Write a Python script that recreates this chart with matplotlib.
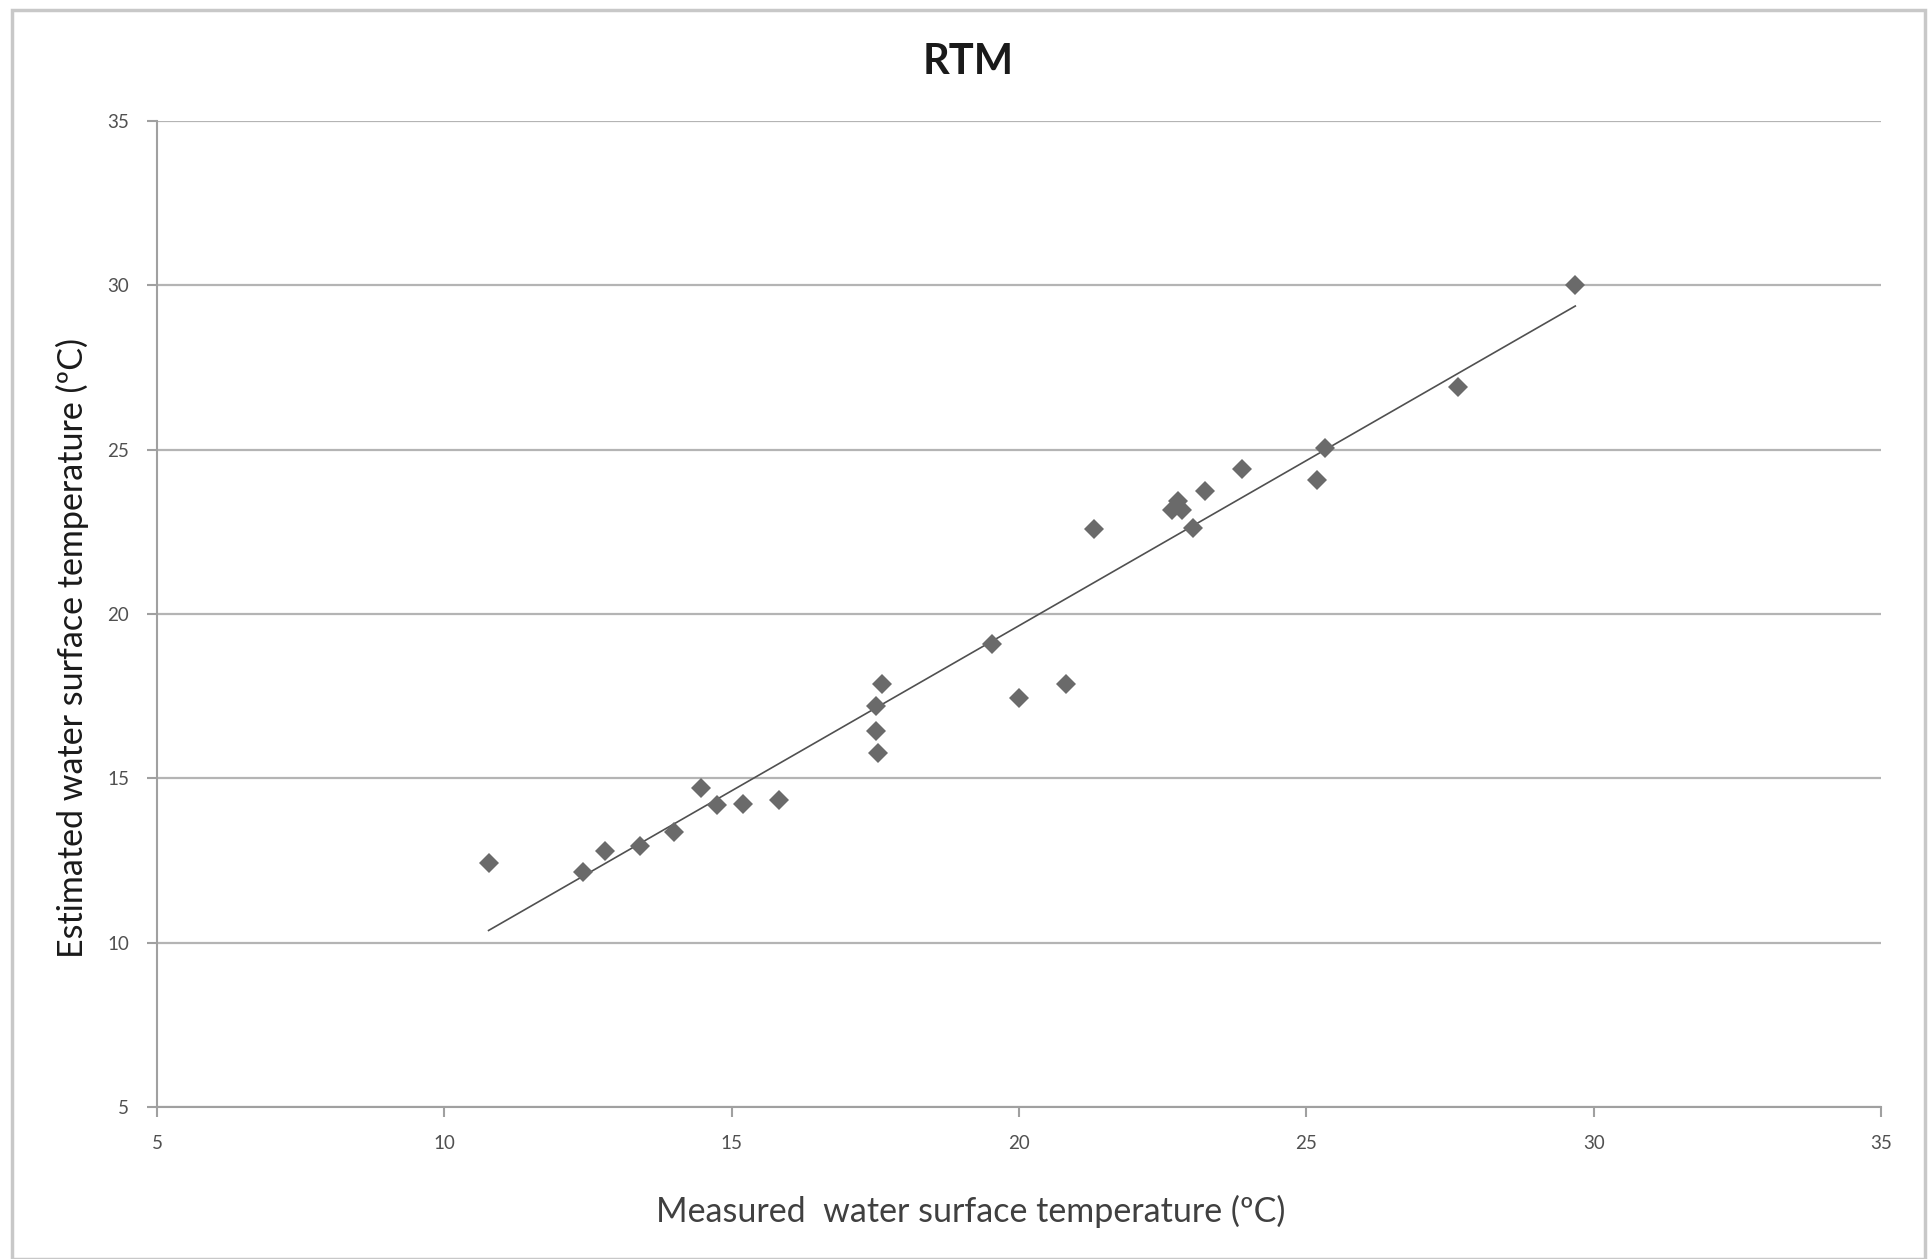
import numpy as np
import matplotlib
matplotlib.use("Agg")
import matplotlib.pyplot as plt
from matplotlib.patches import Rectangle

# ---- data ----
measured = [10.77, 12.42, 12.79, 13.41, 13.99, 14.46, 14.74, 15.19, 15.82,
            17.51, 17.62, 17.51, 17.55, 19.53, 20.00, 20.82, 21.31,
            22.66, 22.77, 22.83, 23.03, 23.24, 23.88, 25.19, 25.32, 27.64, 29.68]
estimated = [12.42, 12.16, 12.80, 12.95, 13.36, 14.71, 14.19, 14.22, 14.34,
             17.19, 17.86, 16.44, 15.76, 19.10, 17.45, 17.86, 22.59,
             23.15, 23.45, 23.15, 22.62, 23.75, 24.42, 24.09, 25.06, 26.90, 30.01]
x_ticks = [5, 10, 15, 20, 25, 30, 35]
y_ticks = [5, 10, 15, 20, 25, 30, 35]
title = "RTM"
x_label = "Measured  water surface temperature (\u00baC)"
y_label = "Estimated water surface temperature (\u00baC)"

plt.rcParams['font.family'] = ['Lato', 'DejaVu Sans']

W, H, DPI = 1933, 1259, 100
fig = plt.figure(figsize=(W / DPI, H / DPI), dpi=DPI)
fig.patch.set_facecolor('white')

# outer chart frame
fig.patches.append(Rectangle((12 / W, 0.5 / H), (1925 - 12) / W, (1249 - 0.5) / H,
                             transform=fig.transFigure, fill=False,
                             edgecolor='#c8c8c8', linewidth=2.5))

ax = fig.add_axes([157 / W, 1 - 1107 / H, (1881 - 157) / W, (1107 - 121) / H])
ax.set_xlim(5, 35)
ax.set_ylim(5, 35)
ax.set_xticks(x_ticks)
ax.set_yticks(y_ticks)

for s in ['top', 'right']:
    ax.spines[s].set_visible(False)
for s in ['left', 'bottom']:
    ax.spines[s].set_color('#a0a0a0')
    ax.spines[s].set_linewidth(1.5)

ax.yaxis.grid(True, color='#b4b4b4', linewidth=1.6)
ax.set_axisbelow(True)
ax.tick_params(axis='both', direction='out', length=7, width=1.5, color='#a0a0a0',
               labelsize=13.5, labelcolor='#505050', pad=13)

# trend line (least squares fit)
xs = np.array(measured)
ys = np.array(estimated)
slope, intercept = np.polyfit(xs, ys, 1)
xl = np.array([xs.min(), xs.max()])
ax.plot(xl, slope * xl + intercept, color='#505050', linewidth=1.2, zorder=3)

ax.plot(measured, estimated, linestyle='none', marker='D', markersize=10.5,
        markerfacecolor='#6a6a6a', markeredgewidth=0, zorder=4, clip_on=False)

fig.text(968 / W, 1 - 62 / H, title, ha='center', va='center',
         fontsize=30, fontweight='bold', color='#1a1a1a')
ax.set_xlabel(x_label, fontsize=24.5, color='#404040', labelpad=31)
ax.set_ylabel(y_label, fontsize=24.5, color='#1a1a1a', labelpad=13)
ax.xaxis.label.set_x(0.472)
ax.yaxis.label.set_y(0.466)

fig.savefig('out.png', dpi=DPI)
